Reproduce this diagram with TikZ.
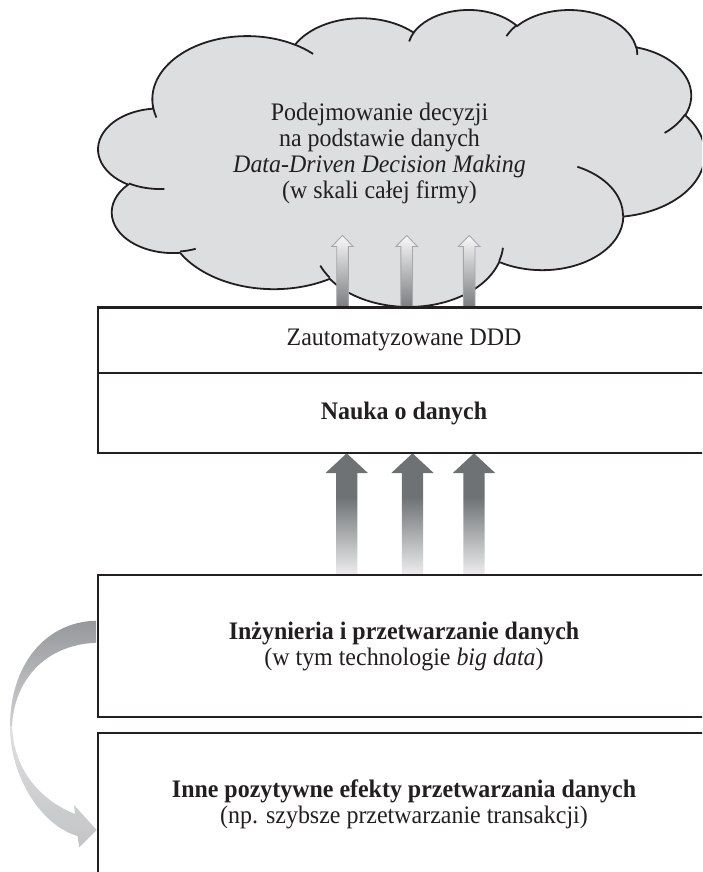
\documentclass[tikz,border=0pt]{standalone}
\usepackage{fontspec}
\setmainfont{Liberation Serif}[FakeStretch=0.95]
\definecolor{ink}{HTML}{231F20}
\definecolor{cloudgray}{RGB}{221,222,224}
\definecolor{fadelight}{RGB}{238,238,239}
\definecolor{fadedark}{RGB}{110,114,117}
\definecolor{smalltop}{RGB}{248,248,248}
\definecolor{smallbot}{RGB}{122,124,127}
\definecolor{smalledge}{RGB}{165,167,170}
\definecolor{curvedark}{RGB}{150,152,155}
\definecolor{curvemid}{RGB}{208,209,211}
\definecolor{curvelight}{RGB}{222,223,225}
\definecolor{curvelow}{RGB}{195,196,198}
\pgfdeclareverticalshading{darkfade}{100bp}{color(0bp)=(fadelight); color(25bp)=(fadelight); color(57bp)=(fadedark); color(100bp)=(fadedark)}
\tikzset{
  boxnode/.style={draw=ink, line width=2.2pt, fill=white, rectangle, minimum width=612pt, inner sep=0pt, align=center},
  cloudline/.style={draw=ink, line width=1.8pt},
  smallarrow/.style={draw=smalledge, line width=0.9pt, top color=smalltop, bottom color=smallbot},
  bigarrow/.style={shading=darkfade},
  curveback/.style={top color=curvedark, bottom color=curvemid},
  curvefront/.style={top color=curvelight, bottom color=curvelow},
}
\begin{document}
\begin{tikzpicture}[x=1pt, y=-1pt, font=\fontsize{25.2}{26}\selectfont, text=ink]
\useasboundingbox (0,0) rectangle (702,872);
\clip (0,0) rectangle (702,872);
\fill[white] (0,0) rectangle (702,872);

% cloud
\begin{scope}[shift={(98.5,9)}, xscale=1.403, yscale=0.6872]
\filldraw[cloudline, fill=cloudgray] (39.00,143.70)
  arc[x radius=67.53, y radius=91.90, start angle=172.26, end angle=300.37]
  arc[x radius=53.33, y radius=72.67, start angle=207.96, end angle=314.56]
  arc[x radius=43.65, y radius=59.45, start angle=206.51, end angle=322.68]
  arc[x radius=48.57, y radius=65.95, start angle=220.28, end angle=349.79]
  arc[x radius=53.33, y radius=72.73, start angle=-74.77, end angle=23.21]
  arc[x radius=67.75, y radius=92.20, start angle=-37.52, end angle=81.86]
  arc[x radius=57.85, y radius=78.67, start angle=0.46, end angle=121.98]
  arc[x radius=67.52, y radius=92.15, start angle=16.84, end angle=146.22]
  arc[x radius=77.20, y radius=105.43, start angle=58.98, end angle=150.18]
  arc[x radius=43.60, y radius=59.18, start angle=83.31, end angle=223.09]
  arc[x radius=43.45, y radius=59.45, start angle=120.35, end angle=264.11]
  -- cycle;
\draw[cloudline]
  (46.93,261.77) arc[x radius=43.45, y radius=59.45, start angle=85.55, end angle=120.35]
  (69.28,348.99) arc[x radius=43.60, y radius=59.18, start angle=68.23, end angle=83.31]
  (164.78,390.90) arc[x radius=67.52, y radius=92.15, start angle=146.22, end angle=158.48]
  (288.27,347.51) arc[x radius=67.52, y radius=92.15, start angle=4.74, end angle=16.84]
  (341.29,229.54) arc[x radius=57.85, y radius=78.67, start angle=-64.03, end angle=0.46]
  (417.98,153.54) arc[x radius=53.33, y radius=72.73, start angle=23.21, end angle=49.65]
  (383.24,54.26) arc[x radius=48.57, y radius=65.95, start angle=-10.21, end angle=0.82]
  (290.78,39.52) arc[x radius=48.57, y radius=65.95, start angle=-156.28, end angle=-139.72]
  (221.41,47.20) arc[x radius=43.65, y radius=59.45, start angle=-167.73, end angle=-153.49]
  (140.00,51.92) arc[x radius=67.53, y radius=91.90, start angle=-59.63, end angle=-45.75]
  (41.27,157.89) arc[x radius=67.53, y radius=91.90, start angle=163.20, end angle=172.26];
\end{scope}

\node[align=center] (cloudtext) at (379.5,153)
  {Podejmowanie decyzji\\na podstawie danych\\\textit{Data-Driven Decision Making}\\(w skali całej firmy)};

% small arrows in the cloud
\foreach \cx in {342.5,406.7,469.2}
  \draw[smallarrow] (\cx-5.8,307.5) -- (\cx-5.8,246.5) -- (\cx-10.8,246.5) -- (\cx,235.5)
    -- (\cx+10.8,246.5) -- (\cx+5.8,246.5) -- (\cx+5.8,307.5) -- cycle;

% large arrows between boxes
\foreach \cx in {346.7,412.5,474}
  \shade[bigarrow] (\cx-10.7,575) -- (\cx-10.7,473) -- (\cx-21.2,473) -- (\cx,453.3)
    -- (\cx+21.2,473) -- (\cx+10.7,473) -- (\cx+10.7,575) -- cycle;

% boxes
\node[boxnode, minimum height=65.8pt] (autoddd) at (404,340.4) {Zautomatyzowane DDD};
\node[boxnode, minimum height=80pt] (nauka) at (404,413.3) {\textbf{Nauka o danych}};
\node[boxnode, minimum height=142pt] (inz) at (404,646)
  {\textbf{Inżynieria i przetwarzanie danych}\\(w tym technologie \textit{big data})};
\node[boxnode, minimum height=143pt] (inne) at (404,804.5)
  {\textbf{Inne pozytywne efekty przetwarzania danych}\\(np. szybsze przetwarzanie transakcji)};

% curved arrow from inz to inne
\shade[curveback] (96,620.7) .. controls (45,622) and (10,665) .. (10,726.7)
  -- (12,726.7) .. controls (14,680) and (45,645) .. (96,642.7) -- cycle;
\shade[curvefront] (10,726.7) .. controls (10,775) and (40,825) .. (77.5,836)
  -- (79.3,847.3) -- (96.7,830) -- (74,805) -- (75,814)
  .. controls (40,800) and (14,770) .. (12,726.7) -- cycle;
\end{tikzpicture}
\end{document}
